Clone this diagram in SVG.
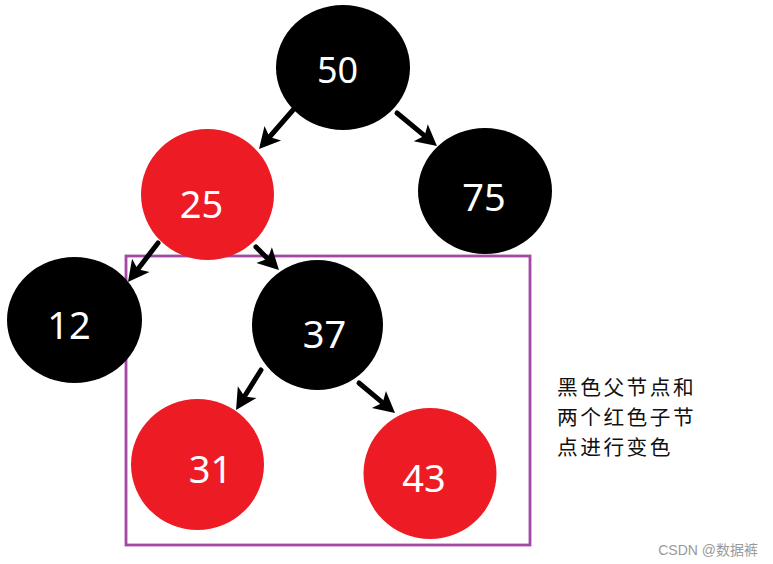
<svg xmlns="http://www.w3.org/2000/svg" width="773" height="564" viewBox="0 0 773 564">
<style>
.blk{fill:#000000}
.red{fill:#ED1C24}
.num{fill:#ffffff;font-family:"Noto Sans","Open Sans",sans-serif;font-size:38px;text-anchor:middle}
.edge{stroke:#000;stroke-width:5;stroke-linecap:round;fill:none;marker-end:url(#ah)}
.note{fill:#111;font-family:"Noto Sans CJK SC","Noto Sans",sans-serif;font-size:20.7px;letter-spacing:2.5px}
.wm{fill:#9a9a9a;font-family:"Liberation Sans","Noto Sans CJK SC",sans-serif;font-size:14px;text-anchor:end}
</style>
<defs>
<marker id="ah" markerUnits="userSpaceOnUse" markerWidth="40" markerHeight="40" viewBox="-20 -20 40 40" refX="0" refY="0" orient="auto" overflow="visible">
<path d="M12,0 L-9,-11 L-4,0 L-9,11 z" fill="#000"/>
</marker>
</defs>
<rect width="773" height="564" fill="#ffffff"/>
<rect id="box" x="126" y="256" width="404" height="289" fill="none" stroke="#A349A4" stroke-width="2.8"/>
<g id="n50"><ellipse class="blk" cx="343" cy="67.5" rx="67" ry="62.5"/><text class="num" x="337.5" y="83" style="font-size:36px">50</text></g>
<g id="n25"><ellipse class="red" cx="207.5" cy="194.5" rx="66.5" ry="65.5"/><text class="num" x="201.5" y="218">25</text></g>
<g id="n75"><ellipse class="blk" cx="485" cy="191" rx="67" ry="63"/><text class="num" x="484" y="211">75</text></g>
<g id="n12"><ellipse class="blk" cx="74.5" cy="320" rx="67.5" ry="63"/><text class="num" x="69" y="339">12</text></g>
<g id="n37"><ellipse class="blk" cx="317.5" cy="325" rx="65.5" ry="65"/><text class="num" x="324.5" y="348">37</text></g>
<g id="n31"><ellipse class="red" cx="197.5" cy="464.5" rx="66.5" ry="65.5"/><text class="num" x="210.5" y="483">31</text></g>
<g id="n43"><ellipse class="red" cx="430" cy="473.5" rx="66.5" ry="65.5"/><text class="num" x="424" y="492">43</text></g>
<g id="connectors">
<line class="edge" x1="293" y1="110" x2="266.9" y2="140"/>
<line class="edge" x1="397" y1="113" x2="427.7" y2="138.4"/>
<line class="edge" x1="158" y1="243" x2="135.3" y2="272.5"/>
<line class="edge" x1="256" y1="247" x2="270.5" y2="261.5"/>
<line class="edge" x1="261" y1="370" x2="242.4" y2="399.8"/>
<line class="edge" x1="359" y1="383" x2="385.8" y2="405.3"/>
</g>
<g id="note">
<text class="note" x="557" y="395">黑色父节点和</text>
<text class="note" x="557" y="425">两个红色子节</text>
<text class="note" x="557" y="455">点进行变色</text>
</g>
<text class="wm" x="758" y="555">CSDN @数据裤</text>
</svg>
